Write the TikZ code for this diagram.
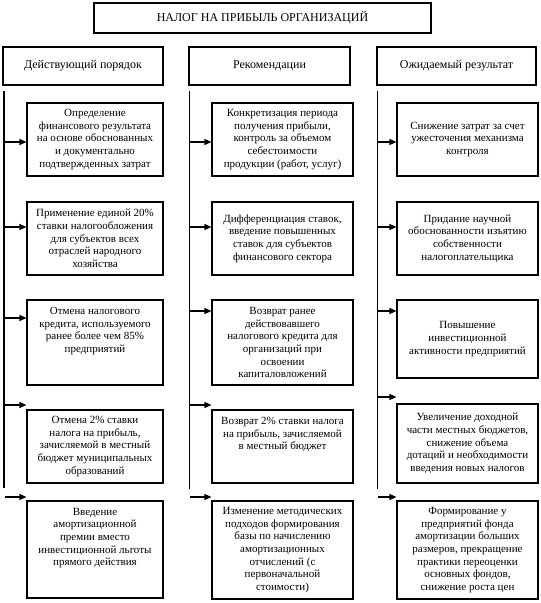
\documentclass[tikz,border=0pt]{standalone}
\usepackage{fontspec}
\setmainfont{Liberation Serif}
\usetikzlibrary{arrows.meta}
\begin{document}
\begin{tikzpicture}[x=1pt,y=-1pt,
  box/.style={draw, line width=1.1pt, inner sep=0pt, align=center,
    font=\fontsize{11}{12.7}\selectfont},
  txt/.style={inner sep=0pt, align=center, font=\fontsize{11}{12.7}\selectfont},
  hdr/.style={draw, line width=1.1pt, inner sep=0pt, align=center,
    font=\fontsize{12}{14}\selectfont},
  vline/.style={line width=1.2pt},
  arr/.style={line width=1.2pt, -{Triangle[length=7pt,width=6pt]}}]
\useasboundingbox (0,0) rectangle (541,603);
% title
\node[hdr, minimum width=337pt, minimum height=30pt] (title) at (262.5,18) {НАЛОГ НА ПРИБЫЛЬ ОРГАНИЗАЦИЙ};
% headers
\node[hdr, minimum width=160pt, minimum height=38pt] (hl) at (83,66) {Действующий порядок};
\node[hdr, minimum width=161pt, minimum height=38pt] (hm) at (269.5,66) {Рекомендации};
\node[hdr, minimum width=159pt, minimum height=38pt] (hr) at (456.5,66) {Ожидаемый результат};
% left column boxes
\node[box, minimum width=136pt, minimum height=73pt] (l1) at (95,139.5) {Определение\\ финансового результата\\ на основе обоснованных\\ и документально\\ подтвержденных затрат};
\node[box, minimum width=136pt, minimum height=73pt] (l2) at (95,238.5) {Применение единой 20\%\\ ставки налогообложения\\ для субъектов всех\\ отраслей народного\\ хозяйства};
\node[box, minimum width=136pt, minimum height=85pt] (l3) at (95,342.5) {};
\node[txt] (l3t) at (95,331) {Отмена налогового\\ кредита, используемого\\ ранее более чем 85\%\\ предприятий};
\node[box, minimum width=136pt, minimum height=73pt] (l4) at (95,446.5) {Отмена 2\% ставки\\ налога на прибыль,\\ зачисляемой в местный\\ бюджет муниципальных\\ образований};
\node[box, minimum width=136pt, minimum height=97pt] (l5) at (95,549.5) {};
\node[txt] (l5t) at (95,538) {Введение\\ амортизационной\\ премии вместо\\ инвестиционной льготы\\ прямого действия};
% middle column boxes
\node[box, minimum width=141pt, minimum height=73pt] (m1) at (282.5,139.5) {Конкретизация периода\\ получения прибыли,\\ контроль за объемом\\ себестоимости\\ продукции (работ, услуг)};
\node[box, minimum width=141pt, minimum height=73pt] (m2) at (282.5,238.5) {Дифференциация ставок,\\ введение повышенных\\ ставок для субъектов\\ финансового сектора};
\node[box, minimum width=141pt, minimum height=85pt] (m3) at (282.5,342.5) {Возврат ранее\\ действовавшего\\ налогового кредита для\\ организаций при\\ освоении\\ капиталовложений};
\node[box, minimum width=141pt, minimum height=73pt] (m4) at (282.5,446.5) {};
\node[txt] (m4t) at (282.5,434.5) {Возврат 2\% ставки налога\\ на прибыль, зачисляемой\\ в местный бюджет};
\node[box, minimum width=141pt, minimum height=98pt] (m5) at (282.5,550) {Изменение методических\\ подходов формирования\\ базы по начислению\\ амортизационных\\ отчислений (с\\ первоначальной\\ стоимости)};
% right column boxes
\node[box, minimum width=141pt, minimum height=73pt] (r1) at (467.5,139.5) {Снижение затрат за счет\\ ужесточения механизма\\ контроля};
\node[box, minimum width=141pt, minimum height=73pt] (r2) at (467.5,238.5) {Придание научной\\ обоснованности изъятию\\ собственности\\ налогоплательщика};
\node[box, minimum width=141pt, minimum height=78pt] (r3) at (467.5,339) {Повышение\\ инвестиционной\\ активности предприятий};
\node[box, minimum width=141pt, minimum height=79pt] (r4) at (467.5,443.5) {Увеличение доходной\\ части местных бюджетов,\\ снижение объема\\ дотаций и необходимости\\ введения новых налогов};
\node[box, minimum width=141pt, minimum height=98pt] (r5) at (467.5,550) {Формирование у\\ предприятий фонда\\ амортизации больших\\ размеров, прекращение\\ практики переоценки\\ основных фондов,\\ снижение роста цен};
% vertical lines
\coordinate (lt) at (4,91);   \coordinate (lb) at (4,488);
\coordinate (mt) at (189.5,91); \coordinate (mb) at (189.5,489);
\coordinate (rt) at (377.5,91); \coordinate (rb) at (377.5,489);
\draw[vline] (lt) -- (lb);
\draw[vline] (mt) -- (mb);
\draw[vline] (rt) -- (rb);
% arrow start points
\coordinate (la1) at (4,142);   \coordinate (la2) at (4,227);   \coordinate (la3) at (4,318);
\coordinate (la4) at (4,405);   \coordinate (la5) at (5,497);
\coordinate (ma1) at (189.5,142); \coordinate (ma2) at (189.5,227); \coordinate (ma3) at (189.5,311);
\coordinate (ma4) at (189.5,405); \coordinate (ma5) at (189.5,497);
\coordinate (ra1) at (377.5,142); \coordinate (ra2) at (377.5,227); \coordinate (ra3) at (377.5,311);
\coordinate (ra4) at (377.5,397); \coordinate (ra5) at (377.5,497);
\draw[arr] (la1) -- (la1 -| l1.west);
\draw[arr] (la2) -- (la2 -| l2.west);
\draw[arr] (la3) -- (la3 -| l3.west);
\draw[arr] (la4) -- (la4 -| l4.west);
\draw[arr] (la5) -- (la5 -| l5.west);
\draw[arr] (ma1) -- (ma1 -| m1.west);
\draw[arr] (ma2) -- (ma2 -| m2.west);
\draw[arr] (ma3) -- (ma3 -| m3.west);
\draw[arr] (ma4) -- (ma4 -| m4.west);
\draw[arr] (ma5) -- (ma5 -| m5.west);
\draw[arr] (ra1) -- (ra1 -| r1.west);
\draw[arr] (ra2) -- (ra2 -| r2.west);
\draw[arr] (ra3) -- (ra3 -| r3.west);
\draw[arr] (ra4) -- (ra4 -| r4.west);
\draw[arr] (ra5) -- (ra5 -| r5.west);
\end{tikzpicture}
\end{document}
